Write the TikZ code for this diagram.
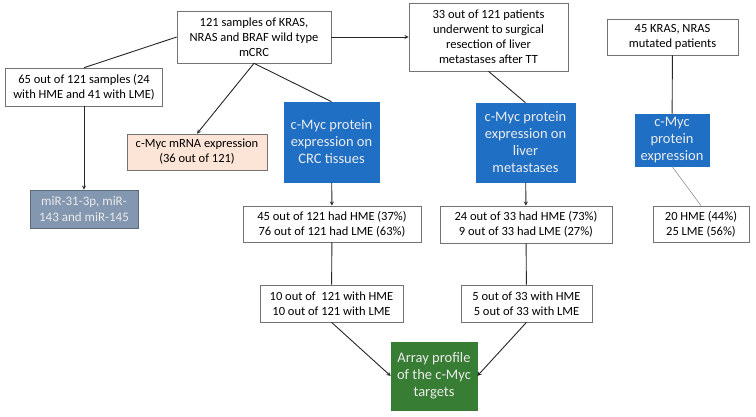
\documentclass[tikz,border=0pt]{standalone}
\usepackage{fontspec}
\setmainfont{Carlito}
\usetikzlibrary{positioning}

\definecolor{protblue}{RGB}{31,111,197}
\definecolor{arraygreen}{RGB}{56,125,52}
\definecolor{mirslate}{RGB}{132,151,176}
\definecolor{mrnapeach}{RGB}{252,228,214}

\begin{document}
\begin{tikzpicture}
		[x=1pt, y=-1pt,
		 box/.style={draw=black!55, fill=white, align=center, inner sep=0pt, line width=0.6pt,
		   font=\fontsize{12.5}{15}\selectfont},
		 filled/.style={box, text=white!92!black, font=\fontsize{14.5}{17}\selectfont},
		 link/.style={draw=black!85, line width=0.9pt},
		 >=stealth]
		\useasboundingbox (0,0) rectangle (756,416);

		\node[box, minimum width=154, minimum height=52] (wild) at (254,37) {121 samples of KRAS,\\NRAS and BRAF wild type\\mCRC};
		\node[box, minimum width=157, minimum height=38] (sub) at (84,87) {65 out of 121 samples (24\\with HME and 41 with LME)};
		\node[box, fill=mrnapeach, minimum width=140, minimum height=36] (mrna) at (197,152) {c-Myc mRNA expression\\(36 out of 121)};
		\node[filled, fill=mirslate, draw=mirslate!70!black, minimum width=108, minimum height=38,
		  font=\fontsize{13}{16}\selectfont] (mir) at (84,209) {miR-31-3p, miR-\\143 and miR-145};
		\node[filled, fill=protblue, draw=protblue, minimum width=95, minimum height=80] (crc) at (331.5,142) {c-Myc protein\\expression on\\CRC tissues};

		\node[box, minimum width=159, minimum height=68] (surg) at (488.5,37) {33 out of 121 patients\\underwent to surgical\\resection of liver\\metastases after TT};
		\node[filled, fill=protblue, draw=protblue, minimum width=99, minimum height=79] (liver) at (525.5,142.5) {c-Myc protein\\expression on\\liver\\metastases};

		\node[box, minimum width=131, minimum height=36] (mut) at (672.5,37) {45 KRAS, NRAS\\mutated patients};
		\node[filled, fill=protblue, draw=protblue, minimum width=74, minimum height=52] (mutprot) at (672,140) {c-Myc\\protein\\expression};
		\node[box, minimum width=96, minimum height=36] (mutres) at (701,224) {20 HME (44\%)\\25 LME (56\%)};

		\node[box, minimum width=178, minimum height=36] (crcres) at (332,224) {45 out of 121 had HME (37\%)\\76 out of 121 had LME (63\%)};
		\node[box, minimum width=143, minimum height=37] (crcsel) at (331.5,303.5) {10 out of \ 121 with HME\\10 out of 121 with LME};
		\node[box, minimum width=172, minimum height=37] (livres) at (526,224.5) {24 out of 33 had HME (73\%)\\9 out of 33 had LME (27\%)};
		\node[box, minimum width=131, minimum height=37] (livsel) at (526.5,303.5) {5 out of 33 with HME\\5 out of 33 with LME};
		\node[filled, fill=arraygreen, draw=arraygreen, minimum width=86, minimum height=68] (array) at (434,376) {Array profile\\of the c-Myc\\targets};

		% wild type branch
		\draw[link] (wild.west) -- (sub.north);
		\draw[link, ->] (sub) -- (mir);
		\draw[link, ->] (wild.south) -- (mrna.north);
		\draw[link] (wild.south) -- (crc.north);
		\draw[link, ->] (wild) -- (surg);
		\draw[link, ->] (crc) -- (crcres);
		\draw[link] (crcres) -- (crcsel);
		\draw[link, ->] (crcsel.south) -- (array.west);

		% liver metastases branch
		\draw[link] (surg.south) -- (liver.north);
		\draw[link, ->] (liver) -- (livres);
		\draw[link] (livres) -- (livsel);
		\draw[link, ->] (livsel.south) -- (array.east);

		% mutated patients
		\draw[link] (mut) -- (mutprot);
		\draw[draw=black!50, line width=0.5pt] (mutprot.south) -- (mutres.north);
	\end{tikzpicture}
\end{document}
